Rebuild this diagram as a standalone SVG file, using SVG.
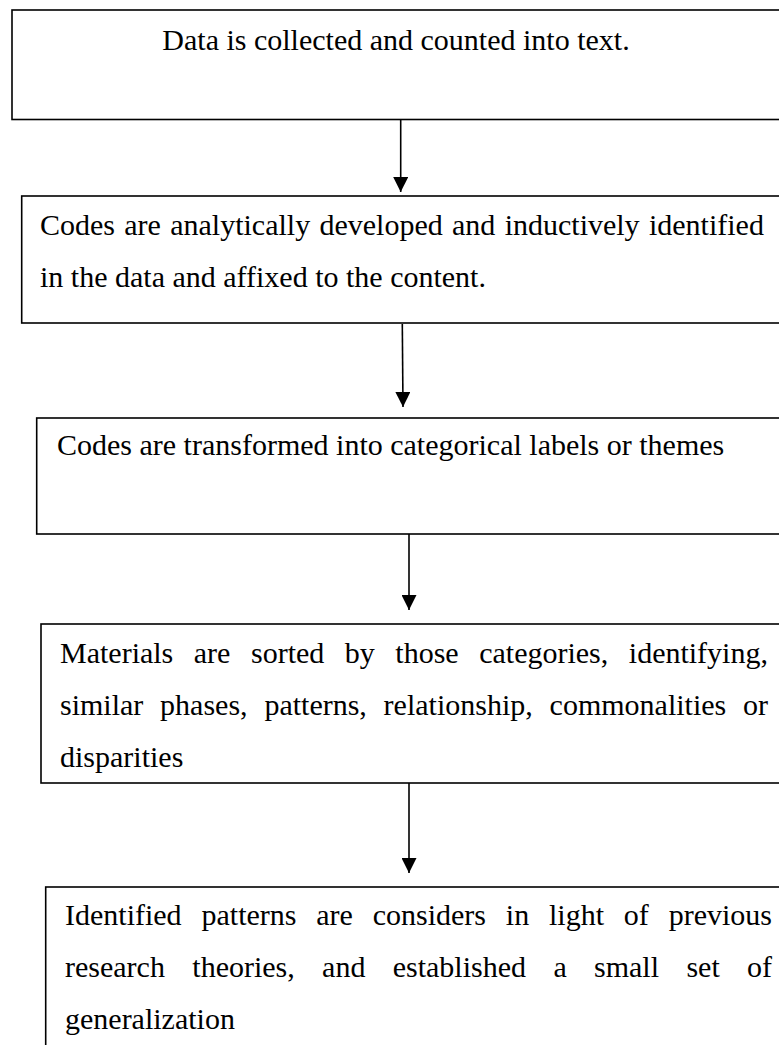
<svg xmlns="http://www.w3.org/2000/svg" width="779" height="1045" viewBox="0 0 779 1045">
  <style>
    .box { fill: #ffffff; stroke: #000000; stroke-width: 1.6; }
    .lbl { font-family: "Liberation Serif", "Times New Roman", serif; font-size: 30px; fill: #000000; }
    .link { stroke: #000000; stroke-width: 1.6; fill: none; }
  </style>
  <defs>
    <marker id="head" markerUnits="userSpaceOnUse" markerWidth="16" markerHeight="15" refX="15" refY="7.5" orient="auto">
      <polygon points="0,0 15,7.5 0,15" fill="#000000"/>
    </marker>
  </defs>
  <rect width="779" height="1045" fill="#ffffff"/>

  <g id="step1">
    <rect class="box" x="12" y="10" width="790" height="109.5"/>
    <text class="lbl" x="396" y="50" text-anchor="middle">Data is collected and counted into text.</text>
  </g>

  <g id="step2">
    <rect class="box" x="21.7" y="196" width="790" height="127"/>
    <!-- first line is justified to the right text margin -->
    <text class="lbl" x="40" y="235" word-spacing="1.8">Codes are analytically developed and inductively identified</text>
    <text class="lbl" x="40" y="287">in the data and affixed to the content.</text>
  </g>

  <g id="step3">
    <rect class="box" x="36.7" y="418" width="790" height="116"/>
    <text class="lbl" x="57" y="455">Codes are transformed into categorical labels or themes</text>
  </g>

  <g id="step4">
    <rect class="box" x="41" y="624" width="790" height="159"/>
    <text class="lbl" y="663"><tspan x="60">Materials</tspan><tspan x="193.8">are</tspan><tspan x="251">sorted</tspan><tspan x="344.8">by</tspan><tspan x="395.3">those</tspan><tspan x="479.2">categories,</tspan><tspan x="628.8">identifying,</tspan></text>
    <text class="lbl" y="715"><tspan x="60">similar</tspan><tspan x="160.1">phases,</tspan><tspan x="264.4">patterns,</tspan><tspan x="383.6">relationship,</tspan><tspan x="549.6">commonalities</tspan><tspan x="743">or</tspan></text>
    <text class="lbl" x="60" y="767">disparities</text>
  </g>

  <g id="step5">
    <rect class="box" x="45.7" y="887" width="790" height="200"/>
    <text class="lbl" y="925"><tspan x="65">Identified</tspan><tspan x="201.5">patterns</tspan><tspan x="316.3">are</tspan><tspan x="372.7">considers</tspan><tspan x="505.8">in</tspan><tspan x="549">light</tspan><tspan x="623.8">of</tspan><tspan x="668.7">previous</tspan></text>
    <text class="lbl" y="977"><tspan x="65">research</tspan><tspan x="192.3">theories,</tspan><tspan x="322.1">and</tspan><tspan x="392.7">established</tspan><tspan x="553.4">a</tspan><tspan x="594">small</tspan><tspan x="686.4">set</tspan><tspan x="747">of</tspan></text>
    <text class="lbl" x="65" y="1029">generalization</text>
  </g>

  <g id="connectors">
    <line class="link" x1="400.7" y1="120" x2="400.7" y2="192" marker-end="url(#head)"/>
    <line class="link" x1="402.3" y1="324" x2="403" y2="407" marker-end="url(#head)"/>
    <line class="link" x1="409" y1="534" x2="409" y2="610" marker-end="url(#head)"/>
    <line class="link" x1="409" y1="783" x2="409" y2="873" marker-end="url(#head)"/>
  </g>
</svg>
